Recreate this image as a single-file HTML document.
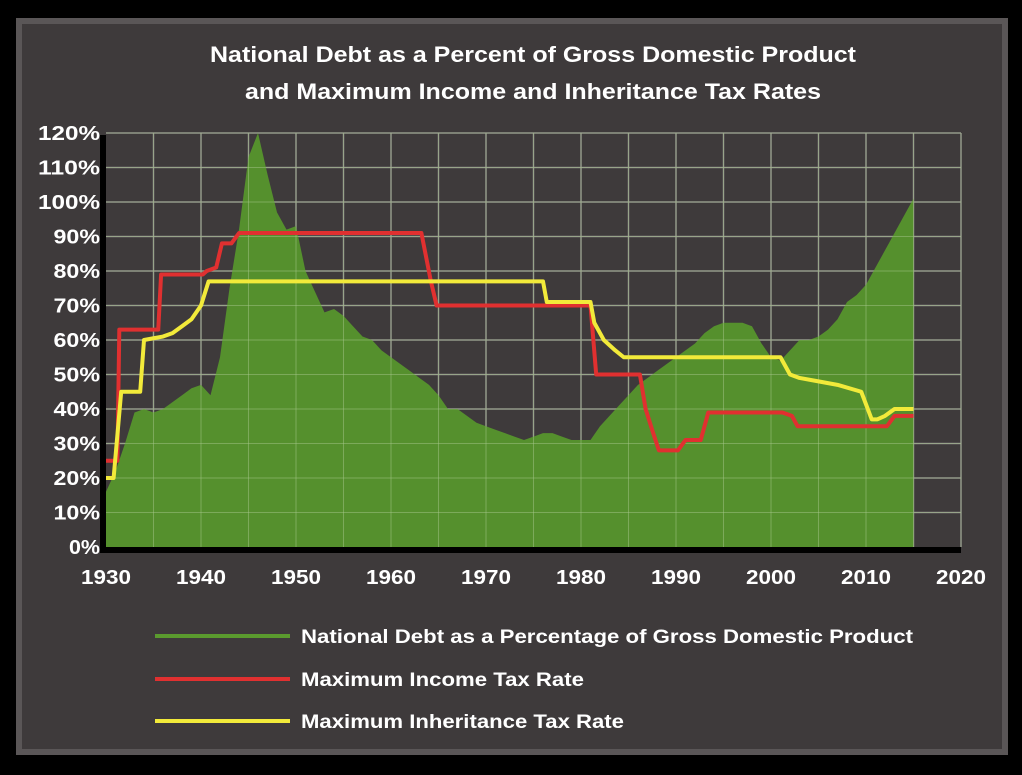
<!DOCTYPE html>
<html><head><meta charset="utf-8"><style>
body{margin:0;background:#000;width:1022px;height:770px;overflow:hidden;font-family:"Liberation Sans",Arial,sans-serif}
</style></head><body>
<svg width="1022" height="770">
<rect x="0" y="0" width="1022" height="770" fill="#000"/>
<rect x="19" y="21" width="986" height="731" fill="#3e3a3b" stroke="#5a5657" stroke-width="6"/>
<g font-weight="bold" fill="#fff" text-anchor="middle" font-size="22">
<text x="533" y="62" textLength="646" lengthAdjust="spacingAndGlyphs">National Debt as a Percent of Gross Domestic Product</text>
<text x="533" y="99" textLength="576" lengthAdjust="spacingAndGlyphs">and Maximum Income and Inheritance Tax Rates</text>
</g>
<g id="grid"></g>
<g id="marks"></g>
<g id="axes"></g>
<g font-weight="bold" fill="#fff" font-size="19">
<line x1="155" y1="636" x2="290" y2="636" stroke="#5a9a2e" stroke-width="4"/>
<text x="301" y="643" textLength="612" lengthAdjust="spacingAndGlyphs">National Debt as a Percentage of Gross Domestic Product</text>
<line x1="155" y1="679" x2="290" y2="679" stroke="#e03030" stroke-width="4"/>
<text x="301" y="686" textLength="283" lengthAdjust="spacingAndGlyphs">Maximum Income Tax Rate</text>
<line x1="155" y1="721" x2="290" y2="721" stroke="#f2ea3a" stroke-width="4"/>
<text x="301" y="728" textLength="323" lengthAdjust="spacingAndGlyphs">Maximum Inheritance Tax Rate</text>
</g>
</svg>
<script>
const debtYears=[1930,1931,1932,1933,1934,1935,1936,1937,1938,1939,1940,1941,1942,1943,1944,1945,1946,1947,1948,1949,1950,1951,1952,1953,1954,1955,1956,1957,1958,1959,1960,1961,1962,1963,1964,1965,1966,1967,1968,1969,1970,1971,1972,1973,1974,1975,1976,1977,1978,1979,1980,1981,1982,1983,1984,1985,1986,1987,1988,1989,1990,1991,1992,1993,1994,1995,1996,1997,1998,1999,2000,2001,2002,2003,2004,2005,2006,2007,2008,2009,2010,2011,2012,2013,2014,2015];
const debtValues=[16,22,30,39,40,39,40,42,44,46,47,44,55,75,92,113,120,108,97,92,93,80,74,68,69,67,64,61,60,57,55,53,51,49,47,44,40,40,38,36,35,34,33,32,31,32,33,33,32,31,31,31,35,38,41,44,47,49,51,53,55,57,59,62,64,65,65,65,64,59,55,54,57,60,60,61,63,66,71,73,76,81,86,91,96,101,106];
const incomeYears=[1930,1931.2,1931.4,1935.5,1935.8,1940.2,1940.6,1941.6,1942.2,1943.2,1944,1963.2,1964.2,1964.8,1981,1981.6,1986.2,1986.8,1987.6,1988.2,1990.2,1991,1992,1992.6,1993.4,2000.4,2001.2,2002.2,2002.8,2012.2,2013,2015];
const incomeValues=[25,25,63,63,79,79,80,81,88,88,91,91,77,70,70,50,50,40,33,28,28,31,31,31,39,39,39,38,35,35,38,38];
const inhYears=[1930,1930.8,1931.6,1933.6,1934,1935,1936,1937,1938,1939,1940,1940.8,1976,1976.4,1981,1981.4,1982.4,1983.6,1984.5,2001,2002,2003,2005,2007,2009.5,2010.6,2011.2,2012,2013,2015];
const inhValues=[20,20,45,45,60,60.5,61,62,64,66,70,77,77,71,71,65,60,57,55,55,50,49,48,47,45,37,37,38,40,40];
const xTicks=[1930,1940,1950,1960,1970,1980,1990,2000,2010,2020];
const yTicks=[0,10,20,30,40,50,60,70,80,90,100,110,120];
const xs=y=>106+(y-1930)*9.5;
const ys=v=>547-v*(414/120);
const NS='http://www.w3.org/2000/svg';
function mk(t,a,p){const e=document.createElementNS(NS,t);for(const k in a)e.setAttribute(k,a[k]);p.appendChild(e);return e;}
const grid=document.getElementById('grid'),marks=document.getElementById('marks'),axes=document.getElementById('axes');
for(let y=1935;y<=2020;y+=5){const l=mk('line',{x1:xs(y),x2:xs(y),y1:ys(120),y2:ys(0),stroke:'#8a8687','stroke-width':1.5},grid);

}
yTicks.forEach(v=>{if(v===0)return;const l=mk('line',{x1:xs(1930),x2:xs(2020),y1:ys(v),y2:ys(v),stroke:'#8a8687','stroke-width':1.5},grid);

});
let d='M'+xs(debtYears[0])+','+ys(0);
debtYears.forEach((y,i)=>{d+=' L'+xs(y)+','+ys(debtValues[i]);});
d+=' L'+xs(debtYears[debtYears.length-1])+','+ys(0)+' Z';
const area=mk('path',{d:d,fill:'#56932c',opacity:0.97},marks);


for(let y=1935;y<=2020;y+=5){const l=mk('line',{x1:xs(y),x2:xs(y),y1:ys(120),y2:ys(0),stroke:'#a9c98f','stroke-width':1,opacity:0.45},marks);

}
yTicks.forEach(v=>{if(v===0)return;const l=mk('line',{x1:xs(1930),x2:xs(2020),y1:ys(v),y2:ys(v),stroke:'#a9c98f','stroke-width':1,opacity:0.45},marks);

});
function line(xsA,vs,col,name){const p=mk('polyline',{points:xsA.map((y,i)=>xs(y)+','+ys(vs[i])).join(' '),fill:'none',stroke:col,'stroke-width':4,'stroke-linejoin':'round'},marks);

}
line(incomeYears,incomeValues,'#e03030','income-tax-line');
line(inhYears,inhValues,'#f2ea3a','inheritance-tax-line');
const ax=mk('path',{d:'M'+(xs(1930)-3)+','+(ys(120)+2)+' V'+(ys(0)+3)+' H'+xs(2020),stroke:'#000','stroke-width':6,fill:'none'},axes);


yTicks.forEach(v=>{const s=v+'%';const t=mk('text',{x:100,y:ys(v)+7,'text-anchor':'end','font-size':20,'font-weight':'bold',fill:'#fff',textLength:s.length*15.5,lengthAdjust:'spacingAndGlyphs'},axes);t.textContent=s;

});
xTicks.forEach(y=>{const t=mk('text',{x:xs(y),y:584,'text-anchor':'middle','font-size':20,'font-weight':'bold',fill:'#fff',textLength:50,lengthAdjust:'spacingAndGlyphs'},axes);t.textContent=y;

});
</script>
</body></html>
